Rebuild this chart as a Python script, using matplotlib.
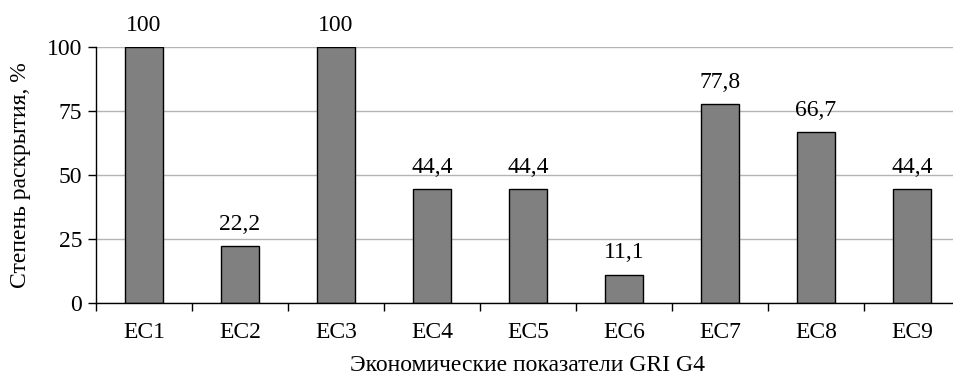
import matplotlib
matplotlib.use("Agg")
import matplotlib.pyplot as plt
import numpy as np
from matplotlib.ticker import FixedLocator

categories = ["EC1", "EC2", "EC3", "EC4", "EC5", "EC6", "EC7", "EC8", "EC9"]
values = [100, 22.2, 100, 44.4, 44.4, 11.1, 77.8, 66.7, 44.4]
value_labels = ["100", "22,2", "100", "44,4", "44,4", "11,1", "77,8", "66,7", "44,4"]
y_ticks = [0, 25, 50, 75, 100]

plt.rcParams["font.family"] = ["Liberation Serif", "DejaVu Serif"]
plt.rcParams["font.size"] = 17

fig = plt.figure(figsize=(9.54, 3.77), dpi=100)
ax = fig.add_axes([96 / 954, 74 / 377, 864 / 954, 256 / 377])

x = np.arange(len(categories))
ax.bar(x, values, width=0.4, color="#808080", edgecolor="black",
       linewidth=1.0, zorder=3)

for xi, v, lab in zip(x, values, value_labels):
    ax.annotate(lab, (xi, v), xytext=(0, 8), textcoords="offset points",
                ha="center", va="bottom")

ax.set_xlim(-0.5, len(categories) - 0.5)
ax.set_ylim(0, 100)
ax.set_yticks(y_ticks)
ax.set_xticks(x)
ax.set_xticklabels(categories)
ax.xaxis.set_minor_locator(FixedLocator(np.arange(-0.5, len(categories), 1.0)))
ax.tick_params(axis="x", which="major", length=0, pad=14)
ax.tick_params(axis="x", which="minor", length=6, width=1, direction="out")
ax.tick_params(axis="y", length=6, width=1, direction="out", pad=4)

ax.grid(axis="y", color="#b4b4b4", linewidth=1.0, zorder=0)
for side in ("top", "right"):
    ax.spines[side].set_visible(False)
for side in ("left", "bottom"):
    ax.spines[side].set_linewidth(1.0)
    ax.spines[side].set_zorder(4)

ax.set_ylabel("Степень раскрытия, %", labelpad=11)
ax.set_xlabel("Экономические показатели GRI G4", labelpad=8)

fig.savefig("out.png", dpi=100)
